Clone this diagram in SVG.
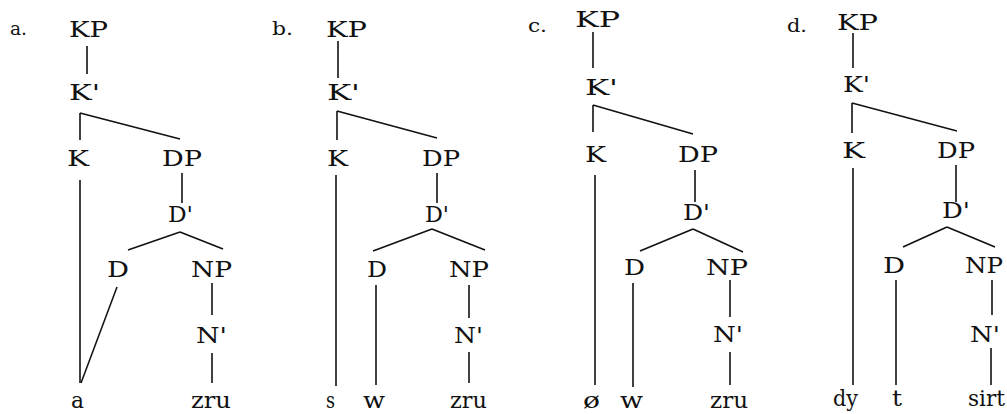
<svg xmlns="http://www.w3.org/2000/svg" width="1007" height="414" viewBox="0 0 1007 414">
<style>
text{font-family:"DejaVu Serif","Liberation Serif",serif;font-size:22px;fill:#111}
.lbl{font-size:19px}
#edges line{stroke:#111;stroke-width:1.6;fill:none}
</style>
<rect width="1007" height="414" fill="#fff"/>
<g id="tree-a">
<g id="a-label"><text class="lbl" x="10" y="35" textLength="17" lengthAdjust="spacingAndGlyphs">a.</text></g>
<g id="a-KP"><text x="69" y="37" textLength="39" lengthAdjust="spacingAndGlyphs">KP</text></g>
<g id="a-Kbar"><text x="69" y="100" textLength="31" lengthAdjust="spacingAndGlyphs">K'</text></g>
<g id="a-K"><text x="67" y="166" textLength="22" lengthAdjust="spacingAndGlyphs">K</text></g>
<g id="a-DP"><text x="162" y="166" textLength="40" lengthAdjust="spacingAndGlyphs">DP</text></g>
<g id="a-Dbar"><text x="168" y="222" textLength="25" lengthAdjust="spacingAndGlyphs">D'</text></g>
<g id="a-D"><text x="107" y="277" textLength="22" lengthAdjust="spacingAndGlyphs">D</text></g>
<g id="a-NP"><text x="191" y="277" textLength="41" lengthAdjust="spacingAndGlyphs">NP</text></g>
<g id="a-Nbar"><text x="196" y="343" textLength="31" lengthAdjust="spacingAndGlyphs">N'</text></g>
<g id="a-a"><text x="71" y="408" textLength="13" lengthAdjust="spacingAndGlyphs">a</text></g>
<g id="a-zru"><text x="191" y="408" textLength="40" lengthAdjust="spacingAndGlyphs">zru</text></g>
</g>
<g id="tree-b">
<g id="b-label"><text class="lbl" x="272" y="35" textLength="21" lengthAdjust="spacingAndGlyphs">b.</text></g>
<g id="b-KP"><text x="326" y="37" textLength="41" lengthAdjust="spacingAndGlyphs">KP</text></g>
<g id="b-Kbar"><text x="327" y="100" textLength="33" lengthAdjust="spacingAndGlyphs">K'</text></g>
<g id="b-K"><text x="327" y="166" textLength="21" lengthAdjust="spacingAndGlyphs">K</text></g>
<g id="b-DP"><text x="422" y="166" textLength="38" lengthAdjust="spacingAndGlyphs">DP</text></g>
<g id="b-Dbar"><text x="425" y="222" textLength="24" lengthAdjust="spacingAndGlyphs">D'</text></g>
<g id="b-D"><text x="367" y="277" textLength="20" lengthAdjust="spacingAndGlyphs">D</text></g>
<g id="b-NP"><text x="449" y="277" textLength="40" lengthAdjust="spacingAndGlyphs">NP</text></g>
<g id="b-Nbar"><text x="454" y="343" textLength="29" lengthAdjust="spacingAndGlyphs">N'</text></g>
<g id="b-s"><text x="326" y="408" textLength="9" lengthAdjust="spacingAndGlyphs">s</text></g>
<g id="b-w"><text x="363" y="408" textLength="22" lengthAdjust="spacingAndGlyphs">w</text></g>
<g id="b-zru"><text x="450" y="408" textLength="37" lengthAdjust="spacingAndGlyphs">zru</text></g>
</g>
<g id="tree-c">
<g id="c-label"><text class="lbl" x="528" y="32" textLength="19" lengthAdjust="spacingAndGlyphs">c.</text></g>
<g id="c-KP"><text x="575" y="27" textLength="45" lengthAdjust="spacingAndGlyphs">KP</text></g>
<g id="c-Kbar"><text x="585" y="95" textLength="33" lengthAdjust="spacingAndGlyphs">K'</text></g>
<g id="c-K"><text x="585" y="162" textLength="21" lengthAdjust="spacingAndGlyphs">K</text></g>
<g id="c-DP"><text x="678" y="162" textLength="40" lengthAdjust="spacingAndGlyphs">DP</text></g>
<g id="c-Dbar"><text x="683" y="220" textLength="27" lengthAdjust="spacingAndGlyphs">D'</text></g>
<g id="c-D"><text x="624" y="275" textLength="21" lengthAdjust="spacingAndGlyphs">D</text></g>
<g id="c-NP"><text x="706" y="275" textLength="42" lengthAdjust="spacingAndGlyphs">NP</text></g>
<g id="c-Nbar"><text x="713" y="342" textLength="30" lengthAdjust="spacingAndGlyphs">N'</text></g>
<g id="c-null"><text x="583" y="408" textLength="17" lengthAdjust="spacingAndGlyphs">ø</text></g>
<g id="c-w"><text x="620" y="408" textLength="23" lengthAdjust="spacingAndGlyphs">w</text></g>
<g id="c-zru"><text x="710" y="408" textLength="38" lengthAdjust="spacingAndGlyphs">zru</text></g>
</g>
<g id="tree-d">
<g id="d-label"><text class="lbl" x="787" y="32" textLength="20" lengthAdjust="spacingAndGlyphs">d.</text></g>
<g id="d-KP"><text x="837" y="30" textLength="41" lengthAdjust="spacingAndGlyphs">KP</text></g>
<g id="d-Kbar"><text x="843" y="92" textLength="27" lengthAdjust="spacingAndGlyphs">K'</text></g>
<g id="d-K"><text x="842" y="158" textLength="23" lengthAdjust="spacingAndGlyphs">K</text></g>
<g id="d-DP"><text x="937" y="158" textLength="38" lengthAdjust="spacingAndGlyphs">DP</text></g>
<g id="d-Dbar"><text x="942" y="218" textLength="28" lengthAdjust="spacingAndGlyphs">D'</text></g>
<g id="d-D"><text x="883" y="273" textLength="22" lengthAdjust="spacingAndGlyphs">D</text></g>
<g id="d-NP"><text x="965" y="273" textLength="38" lengthAdjust="spacingAndGlyphs">NP</text></g>
<g id="d-Nbar"><text x="970" y="342" textLength="30" lengthAdjust="spacingAndGlyphs">N'</text></g>
<g id="d-dy"><text x="833" y="406" textLength="25" lengthAdjust="spacingAndGlyphs">dy</text></g>
<g id="d-t"><text x="892" y="406" textLength="10" lengthAdjust="spacingAndGlyphs">t</text></g>
<g id="d-sirt"><text x="968" y="406" textLength="37" lengthAdjust="spacingAndGlyphs">sirt</text></g>
</g>
<g id="edges">
<line x1="87" y1="46" x2="87" y2="74"/>
<line x1="80" y1="113" x2="80" y2="140"/>
<line x1="80" y1="113" x2="180" y2="139"/>
<line x1="80" y1="180" x2="80" y2="383"/>
<line x1="182" y1="173" x2="182" y2="203"/>
<line x1="180" y1="232" x2="128" y2="250"/>
<line x1="180" y1="232" x2="223" y2="249"/>
<line x1="117" y1="287" x2="81" y2="383"/>
<line x1="212" y1="283" x2="212" y2="315"/>
<line x1="212" y1="353" x2="212" y2="383"/>

<line x1="338" y1="41" x2="338" y2="78"/>
<line x1="337" y1="111" x2="337" y2="140"/>
<line x1="337" y1="111" x2="437" y2="138"/>
<line x1="336" y1="175" x2="336" y2="386"/>
<line x1="437" y1="173" x2="437" y2="203"/>
<line x1="432" y1="229" x2="373" y2="251"/>
<line x1="432" y1="229" x2="485" y2="250"/>
<line x1="376" y1="285" x2="376" y2="385"/>
<line x1="469" y1="285" x2="469" y2="318"/>
<line x1="469" y1="352" x2="469" y2="383"/>

<line x1="593" y1="32" x2="593" y2="68"/>
<line x1="593" y1="105" x2="593" y2="132"/>
<line x1="593" y1="105" x2="693" y2="134"/>
<line x1="595" y1="175" x2="595" y2="385"/>
<line x1="695" y1="170" x2="695" y2="202"/>
<line x1="693" y1="229" x2="640" y2="251"/>
<line x1="693" y1="229" x2="743" y2="252"/>
<line x1="633" y1="283" x2="633" y2="387"/>
<line x1="730" y1="280" x2="730" y2="317"/>
<line x1="730" y1="352" x2="730" y2="385"/>

<line x1="853" y1="33" x2="853" y2="68"/>
<line x1="852" y1="103" x2="852" y2="133"/>
<line x1="852" y1="103" x2="957" y2="131"/>
<line x1="853" y1="168" x2="853" y2="385"/>
<line x1="956" y1="165" x2="956" y2="202"/>
<line x1="947" y1="227" x2="903" y2="247"/>
<line x1="947" y1="227" x2="995" y2="247"/>
<line x1="896" y1="280" x2="896" y2="385"/>
<line x1="992" y1="280" x2="992" y2="315"/>
<line x1="991" y1="348" x2="991" y2="385"/>
</g>
</svg>
